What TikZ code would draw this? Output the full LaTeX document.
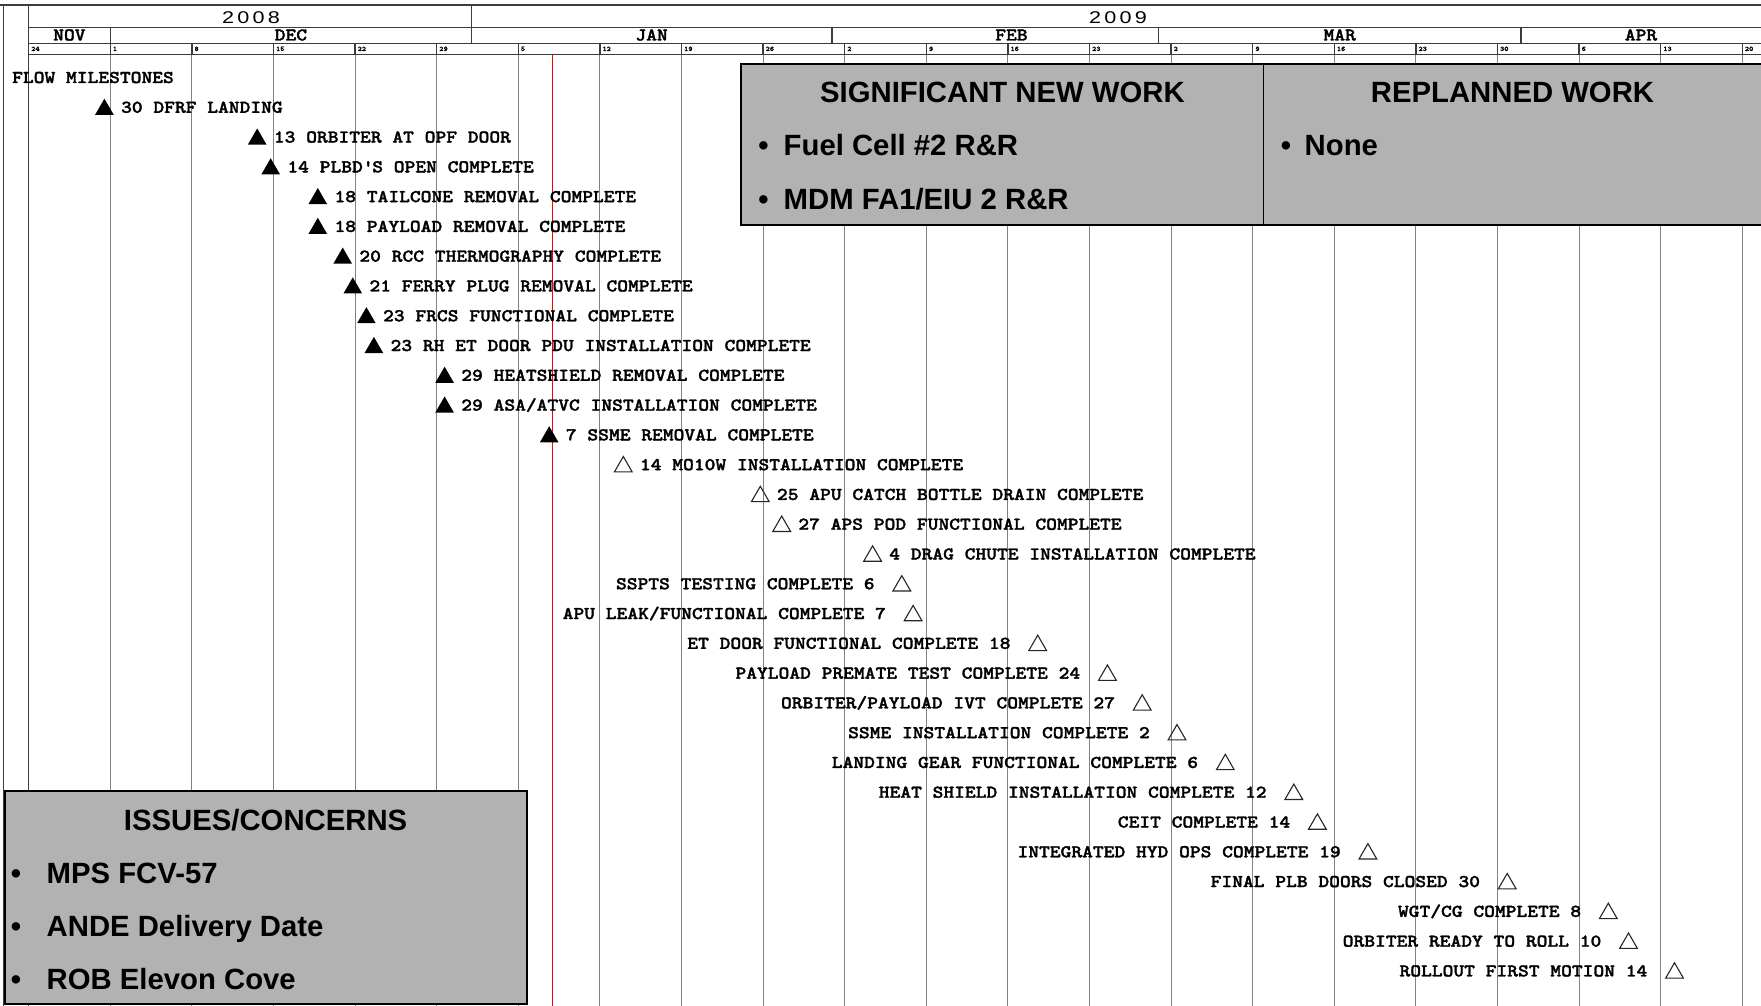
\documentclass[tikz,border=0pt]{standalone}
\usepackage{fontspec}
\usetikzlibrary{shapes.geometric}
\newfontfamily\monof{lmmonolt10-bold.otf}[FakeStretch=1.14,FakeBold=1.6]
\newfontfamily\sansf{Liberation Sans}
\newfontfamily\yearf[LetterSpace=15]{Liberation Sans}
\definecolor{boxgray}{RGB}{178,178,178}
\definecolor{gridgray}{RGB}{130,130,130}
\definecolor{hdrgray}{RGB}{60,60,60}
\tikzset{
  gridline/.style={draw=gridgray, line width=1pt},
  hdrline/.style={draw=hdrgray, line width=1.4pt},
  ftri/.style={regular polygon, regular polygon sides=3, minimum size=21.5pt, inner sep=0pt, outer sep=0pt, fill=black},
  htri/.style={regular polygon, regular polygon sides=3, minimum size=20.5pt, inner sep=0pt, outer sep=0pt, draw=black!85, line width=1.1pt},
  mtext/.style={inner sep=0pt, font=\monof\fontsize{18}{18}\selectfont},
  monthtext/.style={inner sep=0pt, font=\monof\fontsize{18}{18}\selectfont},
  wktext/.style={inner sep=0pt, font=\monof\fontsize{7}{7}\selectfont},
  yeartext/.style={inner sep=0pt, font=\yearf\fontsize{17}{17}\selectfont},
  infobox/.style={fill=boxgray, draw=black, line width=2pt},
  boxtext/.style={inner sep=0pt, font=\sansf\bfseries\fontsize{29.3}{29.3}\selectfont},
}
% filled milestone, text to the right
\newcommand\msFL[4]{%
  \pgfmathsetmacro\by{112.8+29.78*(#2-1)}%
  \node[ftri] (#1) at (#3,\by-3.4) {};
  \node[mtext,anchor=base west] (#1t) at (#3+16.5,\by) {#4};}
% hollow milestone, text to the right
\newcommand\msHL[4]{%
  \pgfmathsetmacro\by{112.8+29.78*(#2-1)}%
  \node[htri] (#1) at (#3,\by-3.4) {};
  \node[mtext,anchor=base west] (#1t) at (#3+16.5,\by) {#4};}
% hollow milestone, text to the left
\newcommand\msHR[4]{%
  \pgfmathsetmacro\by{112.8+29.78*(#2-1)}%
  \node[htri] (#1) at (#3,\by-3.4) {};
  \node[mtext,anchor=base east] (#1t) at (#3-27,\by) {#4};}
\begin{document}
\begin{tikzpicture}[x=1pt,y=-1pt]
\useasboundingbox (0,0) rectangle (1761,1006);
\fill[white] (0,0) rectangle (1761,1006);

% chart grid lines
\foreach \k in {1,...,21} \draw[gridline] ({28.6+81.6*\k},54.3) -- ({28.6+81.6*\k},1006);
% today line
\draw[red, line width=1.5pt] (552.6,54.3) -- (552.6,1006);

% header frame
\draw[hdrline] (0,5) -- (1761,5);
\draw[hdrline] (3.4,5) -- (3.4,1006);
\draw[hdrline] (28.6,5) -- (28.6,1006);
\draw[hdrline] (28.6,27.3) -- (1761,27.3);
\draw[hdrline] (28.6,43.7) -- (1761,43.7);
\draw[hdrline] (28.6,54.3) -- (1761,54.3);
\draw[hdrline] (471.5,5) -- (471.5,43.7);
\foreach \mx in {110.2,831.8,1158.3,1521} \draw[hdrline] (\mx,27.3) -- (\mx,43.7);
\foreach \k in {0,...,21} \draw[hdrline] ({28.6+81.6*\k},43.7) -- ({28.6+81.6*\k},54.3);

% years
\node[yeartext,anchor=base] (y2008) at (251,23.5) {\scalebox{1.27}[1]{2008}};
\node[yeartext,anchor=base] (y2009) at (1118,23.5) {\scalebox{1.27}[1]{2009}};
% months
\node[monthtext,anchor=base] (mnov) at (69.4,40.5) {NOV};
\node[monthtext,anchor=base] (mdec) at (290.9,40.5) {DEC};
\node[monthtext,anchor=base] (mjan) at (651.6,40.5) {JAN};
\node[monthtext,anchor=base] (mfeb) at (1011.5,40.5) {FEB};
\node[monthtext,anchor=base] (mmar) at (1339.7,40.5) {MAR};
\node[monthtext,anchor=base] (mapr) at (1641,40.5) {APR};
% weeks
\foreach \d [count=\k from 0] in {24,1,8,15,22,29,5,12,19,26,2,9,16,23,2,9,16,23,30,6,13,20}
  \node[wktext,anchor=base west] (w\k) at ({28.6+81.6*\k+2.5},51) {\d};

% info boxes
\draw[infobox] (741.3,64) rectangle (1765,224.6);
\draw[black, line width=1.3pt] (1263.5,64) -- (1263.5,224.6);
\node[boxtext,anchor=base] (signew) at (1002.4,103) {SIGNIFICANT NEW WORK};
\node[boxtext,anchor=base] (sigb1) at (763.5,156) {\textbullet};
\node[boxtext,anchor=base west] (sig1) at (783.5,156) {Fuel Cell \#2 R\&R};
\node[boxtext,anchor=base] (sigb2) at (763.5,209) {\textbullet};
\node[boxtext,anchor=base west] (sig2) at (783.5,209) {MDM FA1/EIU 2 R\&R};
\node[boxtext,anchor=base] (replan) at (1512.5,103) {REPLANNED WORK};
\node[boxtext,anchor=base] (repb1) at (1286,156) {\textbullet};
\node[boxtext,anchor=base west] (rep1) at (1304.5,156) {None};

\draw[infobox] (4.5,790.7) rectangle (526.7,1004);
\node[boxtext,anchor=base] (issues) at (265.6,830) {ISSUES/CONCERNS};
\node[boxtext,anchor=base] (issb1) at (16,883) {\textbullet};
\node[boxtext,anchor=base west] (iss1) at (46.5,883) {MPS FCV-57};
\node[boxtext,anchor=base] (issb2) at (16,936) {\textbullet};
\node[boxtext,anchor=base west] (iss2) at (46.5,936) {ANDE Delivery Date};
\node[boxtext,anchor=base] (issb3) at (16,989.5) {\textbullet};
\node[boxtext,anchor=base west] (iss3) at (46.5,989.5) {ROB Elevon Cove};

% milestones
\node[mtext,anchor=base west] (flow) at (12,83) {FLOW MILESTONES};
\msFL{m1}{1}{104.4}{30 DFRF LANDING}
\msFL{m2}{2}{257.2}{13 ORBITER AT OPF DOOR}
\msFL{m3}{3}{270.7}{14 PLBD\textquotesingle S OPEN COMPLETE}
\msFL{m4}{4}{317.8}{18 TAILCONE REMOVAL COMPLETE}
\msFL{m5}{5}{317.8}{18 PAYLOAD REMOVAL COMPLETE}
\msFL{m6}{6}{342.7}{20 RCC THERMOGRAPHY COMPLETE}
\msFL{m7}{7}{352.8}{21 FERRY PLUG REMOVAL COMPLETE}
\msFL{m8}{8}{366.4}{23 FRCS FUNCTIONAL COMPLETE}
\msFL{m9}{9}{373.9}{23 RH ET DOOR PDU INSTALLATION COMPLETE}
\msFL{m10}{10}{444.6}{29 HEATSHIELD REMOVAL COMPLETE}
\msFL{m11}{11}{444.6}{29 ASA/ATVC INSTALLATION COMPLETE}
\msFL{m12}{12}{549.2}{7 SSME REMOVAL COMPLETE}
\msHL{m13}{13}{623.3}{14 MO10W INSTALLATION COMPLETE}
\msHL{m14}{14}{760.3}{25 APU CATCH BOTTLE DRAIN COMPLETE}
\msHL{m15}{15}{781.7}{27 APS POD FUNCTIONAL COMPLETE}
\msHL{m16}{16}{872.6}{4 DRAG CHUTE INSTALLATION COMPLETE}
\msHR{m17}{17}{901.8}{SSPTS TESTING COMPLETE 6}
\msHR{m18}{18}{913.1}{APU LEAK/FUNCTIONAL COMPLETE 7}
\msHR{m19}{19}{1037.7}{ET DOOR FUNCTIONAL COMPLETE 18}
\msHR{m20}{20}{1107.4}{PAYLOAD PREMATE TEST COMPLETE 24}
\msHR{m21}{21}{1142.2}{ORBITER/PAYLOAD IVT COMPLETE 27}
\msHR{m22}{22}{1177}{SSME INSTALLATION COMPLETE 2}
\msHR{m23}{23}{1225.3}{LANDING GEAR FUNCTIONAL COMPLETE 6}
\msHR{m24}{24}{1293.8}{HEAT SHIELD INSTALLATION COMPLETE 12}
\msHR{m25}{25}{1317.4}{CEIT COMPLETE 14}
\msHR{m26}{26}{1367.9}{INTEGRATED HYD OPS COMPLETE 19}
\msHR{m27}{27}{1507.2}{FINAL PLB DOORS CLOSED 30}
\msHR{m28}{28}{1608.3}{WGT/CG COMPLETE 8}
\msHR{m29}{29}{1628.5}{ORBITER READY TO ROLL 10}
\msHR{m30}{30}{1674.5}{ROLLOUT FIRST MOTION 14}
\end{tikzpicture}
\end{document}
